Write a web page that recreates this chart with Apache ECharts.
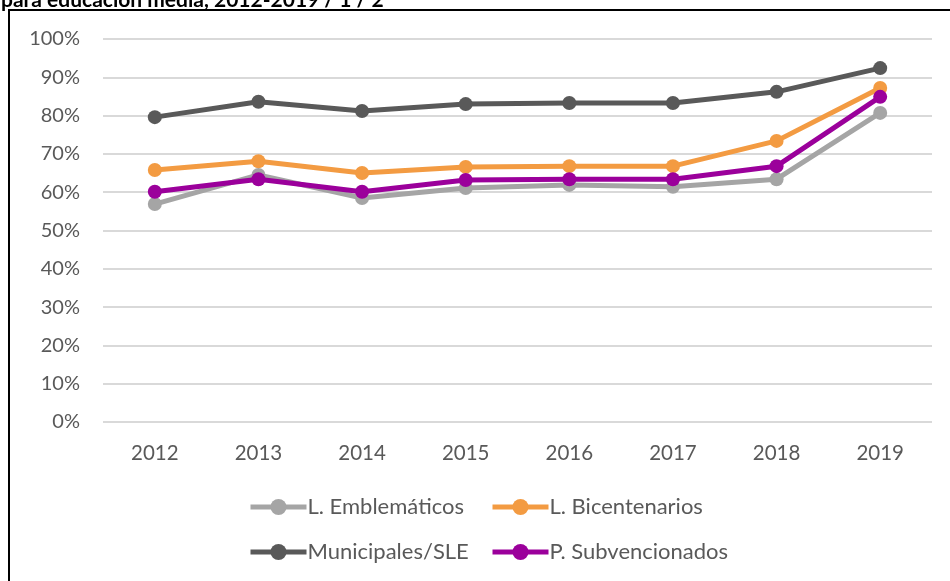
<!DOCTYPE html>
<html>
<head>
<meta charset="utf-8">
<script src="https://cdn.jsdelivr.net/npm/echarts@6/dist/echarts.min.js"></script>
<style>
  html, body { margin: 0; padding: 0; background: #fff; }
  #chart { width: 950px; height: 581px; }
</style>
</head>
<body>
<div id="chart"></div>
<script>
// years on the x axis
var years = ['2012', '2013', '2014', '2015', '2016', '2017', '2018', '2019'];

// share per group
var emblematicos = [0.569, 0.645, 0.585, 0.611, 0.619, 0.614, 0.634, 0.807];
var bicentenarios = [0.658, 0.681, 0.650, 0.666, 0.668, 0.668, 0.734, 0.872];
var municipales = [0.796, 0.836, 0.812, 0.830, 0.833, 0.833, 0.862, 0.924];
var subvencionados = [0.601, 0.634, 0.601, 0.632, 0.634, 0.634, 0.668, 0.849];

var names = ['L. Emblemáticos', 'L. Bicentenarios', 'Municipales/SLE', 'P. Subvencionados'];
var colors = ['#A5A5A5', '#F39B42', '#595959', '#9B009B'];

var font = 'Lato, "Open Sans", sans-serif';
var labelColor = '#595959';

function makeSeries(i, values) {
	return {
		name: names[i],
		type: 'line',
		data: values,
		symbol: 'circle',
		symbolSize: 14,
		color: colors[i],
		lineStyle: { width: 5, color: colors[i] },
		itemStyle: { color: colors[i] },
		emphasis: { disabled: true },
		z: 2 + i
	};
}

function makeLegend(left, items) {
	return {
		orient: 'vertical',
		left: left,
		top: 496,
		padding: 0,
		itemGap: 23,
		itemWidth: 56,
		itemHeight: 20,
		data: items,
		selectedMode: false,
		lineStyle: { width: 5 },
		textStyle: { color: labelColor, fontSize: 22, fontFamily: font, padding: [0, 0, 0, -4] }
	};
}

var chart = echarts.init(document.getElementById('chart'));

chart.setOption({
	animation: false,
	backgroundColor: '#fff',
	grid: { left: 103, right: 18, top: 39, bottom: 159 },
	xAxis: {
		type: 'category',
		data: years,
		boundaryGap: true,
		axisLine: { show: false },
		axisTick: { show: false },
		axisLabel: { color: labelColor, fontSize: 20.5, fontFamily: font, margin: 21 }
	},
	yAxis: {
		type: 'value',
		min: 0,
		max: 1,
		interval: 0.1,
		axisLine: { show: false },
		axisTick: { show: false },
		splitLine: { lineStyle: { color: '#D9D9D9', width: 2 } },
		axisLabel: {
			color: labelColor, fontSize: 20, fontFamily: font, margin: 23,
			formatter: function (v) { return Math.round(v * 100) + '%'; }
		}
	},
	legend: [
		makeLegend(248, [names[0], names[2]]),
		makeLegend(490, [names[1], names[3]])
	],
	graphic: [
		{
			type: 'rect',
			shape: { x: 9, y: 10, width: 1000, height: 600 },
			style: { fill: 'none', stroke: '#000', lineWidth: 2 },
			silent: true
		},
		{
			type: 'text',
			x: 1,
			y: 11,
			style: {
				text: 'para educación media, 2012-2019 / 1 / 2',
				fill: '#000',
				font: 'bold 21px ' + font,
				verticalAlign: 'bottom'
			},
			silent: true
		}
	],
	series: [
		makeSeries(0, emblematicos),
		makeSeries(1, bicentenarios),
		makeSeries(2, municipales),
		makeSeries(3, subvencionados)
	]
});
</script>
</body>
</html>
